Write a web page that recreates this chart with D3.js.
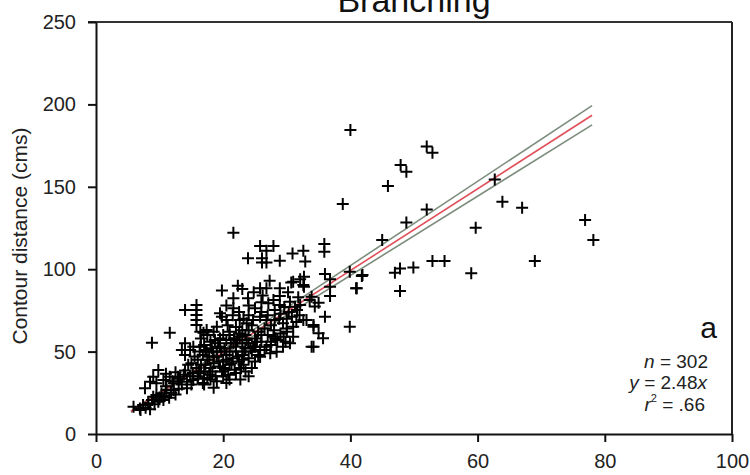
<!DOCTYPE html>
<html>
<head>
<meta charset="utf-8">
<script src="https://cdn.jsdelivr.net/npm/d3@7"></script>
<style>
  body { margin: 0; background: white; }
  text { font-family: "Liberation Sans", Arial, sans-serif; }
</style>
</head>
<body>
<div id="chart"></div>
<script>
// straight-line distance (x) and contour distance (y) for each branching point
const straightDist = [
    5.9, 6.9, 7.4, 8.2, 8.8, 9.0, 9.5, 10.3, 10.6, 11.1, 12.2,
    7.0, 7.8, 8.5, 9.2, 9.8, 10.0, 10.8, 11.5, 11.8, 12.5, 13.0, 13.5,
    9.8, 9.0, 8.5, 7.7, 9.5, 10.6, 11.6, 12.2, 12.9, 14.3, 14.3, 15.3, 16.4,
    11.0, 12.0, 13.2, 13.8, 14.8, 15.0, 16.0, 16.8, 17.5, 14.0, 12.5, 11.0,
    8.8, 11.6, 14.0, 15.8, 15.8, 15.8, 15.8, 15.8, 16.9, 19.0, 19.5, 20.5, 14.0, 13.5, 14.8, 14.0,
    15.8, 16.5, 17.0, 17.5, 18.0, 18.5, 19.0, 19.5, 20.0, 20.5, 21.0, 21.5, 22.0, 22.5, 23.0, 23.5, 24.0,
    16.0, 16.8, 17.2, 17.8, 18.2, 18.8, 19.2, 19.8, 20.2, 20.8, 21.2, 21.8, 22.2, 22.8, 23.2, 24.0, 24.5,
    15.0, 15.5, 16.2, 17.0, 18.0, 18.5, 19.0, 19.5, 20.0, 20.5, 21.0, 22.0, 23.0, 24.5, 25.0, 25.5, 25.0, 26.0,
    17.0, 18.0, 19.0, 20.0, 21.0, 22.0, 16.5, 17.5, 18.5, 20.0, 21.0, 22.5, 23.5, 24.0,
    16.4, 17.4, 18.4, 19.5, 20.5, 21.6, 22.6, 23.7, 24.7, 25.8, 27.4, 28.4, 29.4,
    16.4, 17.4, 19.8, 22.6, 23.7, 24.7, 25.8, 26.8, 28.1, 29.4, 30.8, 31.6, 32.1, 33.6, 34.4, 33.1, 34.2, 31.0, 30.5, 34.2, 27.9, 26.8, 25.8,
    21.6, 23.9, 21.6, 25.0, 27.1, 27.9, 28.9, 28.1, 19.8, 25.8, 26.8, 28.9, 28.9, 31.0, 32.1, 32.6,
    22.0, 23.0, 24.5, 25.5, 26.5, 27.0, 28.0, 29.0, 30.0, 25.0, 26.0, 27.5, 28.5, 29.5, 30.0, 21.0,
    22.5, 24.0, 26.0, 27.0, 29.0, 30.0, 31.5, 32.0, 24.0, 26.0, 20.5,
    14.5, 15.2, 16.0, 17.2, 18.3, 19.3, 20.3, 21.3, 22.3, 23.3, 24.3, 19.7, 18.7, 21.7, 23.0, 25.3, 26.5, 27.5,
    28.2, 29.8, 22.7, 18.5, 20.5, 23.5, 24.0, 17.8, 16.3, 15.3, 20.7, 21.5, 23.2, 27.5, 28.8, 30.3, 29.6, 31.8,
    30.2, 26.2, 24.8, 23.0, 22.3, 27.3,
    21.6, 25.8, 27.9, 26.8, 26.8, 26.1, 26.1, 28.9, 23.9, 30.9, 32.6, 32.9, 35.9, 35.9,
    30.7, 32.7, 32.7, 36.0, 36.8, 36.8, 36.8, 39.9, 41.8, 41.0, 31.3, 30.5, 33.9, 35.0, 36.0, 32.6,
    34.2, 35.0, 35.7, 39.9, 31.0, 33.9,
    38.8, 40.0, 52.0, 52.9, 47.9, 48.8, 45.9, 62.7, 63.9, 67.0, 52.0, 48.8, 59.7, 45.0, 76.9, 78.2,
    69.0, 52.9, 54.8, 59.0, 47.8, 47.0, 49.9, 47.8, 41.9, 40.9
];

const contourDist = [
    16.6, 15.5, 17.6, 18.6, 20.6, 22.6, 23.7, 24.7, 20.6, 26.7, 26.7,
    14.5, 16.0, 15.0, 18.0, 19.5, 22.0, 23.0, 22.0, 25.0, 24.0, 27.5, 30.0,
    38.8, 34.8, 31.7, 27.7, 30.8, 32.8, 34.8, 30.8, 34.8, 31.7, 27.7, 32.8, 36.8,
    29.0, 32.0, 33.5, 36.0, 35.0, 30.0, 33.5, 31.0, 34.0, 38.5, 37.5, 36.5,
    55.4, 61.5, 75.2, 78.3, 75.2, 72.2, 69.2, 66.1, 61.5, 65.1, 73.2, 69.2, 55.0, 51.0, 51.0, 47.9,
    40, 42, 38, 45, 40, 43, 47, 41, 44, 48, 42, 46, 50, 44, 48, 52, 46,
    45, 48, 50, 36, 52, 35, 55, 38, 52, 36, 55, 39, 57, 40, 42, 55, 40,
    43, 47, 38, 54, 56, 47, 50, 58, 40, 45, 50, 53, 45, 50, 44, 48, 53, 56,
    30, 33, 32, 35, 33, 37, 58, 60, 62, 60, 62, 61, 60, 63,
    53.0, 51.0, 49.9, 53.0, 57.0, 55.0, 59.0, 57.0, 53.0, 46.9, 49.0, 49.9, 53.0,
    62.1, 63.1, 71.2, 69.2, 67.2, 69.2, 71.2, 69.2, 69.2, 67.2, 71.2, 75.2, 78.3, 81.3, 77.3, 69.2, 65.1, 65.1, 55.0, 53.0, 59.0, 53.0, 51.0,
    82.3, 82.3, 76.3, 76.3, 79.3, 81.3, 78.3, 75.2, 87.0, 88.4, 88.4, 88.4, 83.7, 92.4, 93.9, 90.4,
    65, 63, 66, 62, 64, 60, 63, 61, 64, 58, 60, 56, 57, 59, 62, 60,
    74, 72, 74, 72, 73, 70, 68, 72, 78, 80, 78,
    42, 37, 35, 42, 38, 44, 39, 43, 47, 50, 52, 50, 57, 58, 55, 56, 51, 54,
    58, 56, 33, 28, 31, 38, 35, 47, 50, 53, 66, 72, 70, 66, 70, 74, 77, 83,
    86, 84, 86, 88, 90, 93,
    122.1, 114.1, 114.1, 111.2, 104.0, 106.6, 104.0, 105.2, 106.6, 109.6, 111.2, 104.6, 115.3, 110.6,
    92.0, 95.4, 89.4, 97.1, 93.9, 89.4, 83.7, 98.5, 95.9, 88.4, 77.2, 80.3, 83.3, 79.7, 71.2, 69.2,
    66.1, 61.1, 58.1, 65.1, 59.0, 53.0,
    139.6, 184.5, 174.4, 170.7, 163.2, 159.2, 150.5, 154.5, 141.0, 137.3, 136.3, 128.4, 125.2, 117.7, 129.9, 117.7,
    105.0, 105.0, 105.0, 97.5, 100.5, 97.9, 101.0, 86.8, 96.5, 88.4
];

const xTicks = [0, 20, 40, 60, 80, 100];
const yTicks = [0, 50, 100, 150, 200, 250];
const slope = 2.48, bandDelta = 0.075; // fitted slope and 95% band half-width on the slope
const fitRange = [5.5, 78];

const data = straightDist.map((d, i) => ({ x: d, y: contourDist[i] }));

const height = 475,
      width = 750,
      margin = ({ top: 22, right: 18, bottom: 41, left: 96 });

let svg = d3.select("#chart")
    .append("svg")
    .attr("width", width)
    .attr("height", height);

let x = d3.scaleLinear()
    .domain([0, 100])
    .range([margin.left, width - margin.right]);

let y = d3.scaleLinear()
    .domain([0, 250])
    .range([height - margin.bottom, margin.top]);

// frame on the top and right
svg.append("line")
    .attr("x1", x(0) - 8).attr("x2", x(100))
    .attr("y1", y(250)).attr("y2", y(250))
    .attr("stroke", "#333").attr("stroke-width", 2);
svg.append("line")
    .attr("x1", x(100)).attr("x2", x(100))
    .attr("y1", y(250)).attr("y2", y(0))
    .attr("stroke", "#222").attr("stroke-width", 2);

let xAxis = svg.append("g")
    .attr("transform", `translate(0,${y(0)})`)
    .call(d3.axisBottom(x).tickValues(xTicks).tickSize(8).tickSizeOuter(0).tickPadding(12));

let yAxis = svg.append("g")
    .attr("transform", `translate(${x(0)},0)`)
    .call(d3.axisLeft(y).tickValues(yTicks).tickSize(8).tickSizeOuter(0).tickPadding(12));

for (let g of [xAxis, yAxis]) {
    g.select(".domain").attr("stroke", "#111").attr("stroke-width", 2);
    g.selectAll(".tick line").attr("stroke", "#111").attr("stroke-width", 2);
    g.selectAll(".tick text")
        .attr("fill", "#222")
        .style("font-size", "20px")
        .style("font-family", "'Liberation Sans', Arial, sans-serif");
}

// regression line with confidence band
let fit = [
    { k: slope + bandDelta, c: "#7d8d7d" },
    { k: slope - bandDelta, c: "#7d8d7d" },
    { k: slope, c: "#e0505a" }
];
svg.selectAll(".fit")
    .data(fit)
    .join("line")
    .attr("class", "fit")
    .attr("x1", x(fitRange[0])).attr("y1", d => y(d.k * fitRange[0]))
    .attr("x2", x(fitRange[1])).attr("y2", d => y(d.k * fitRange[1]))
    .attr("stroke", d => d.c)
    .attr("stroke-width", 1.6);

// plus markers
svg.selectAll(".pt")
    .data(data)
    .join("path")
    .attr("class", "pt")
    .attr("transform", d => `translate(${x(d.x)},${y(d.y)})`)
    .attr("d", "M-6,0H6M0,-6V6")
    .attr("stroke", "#000")
    .attr("stroke-width", 2)
    .attr("fill", "none");

// title, cut at the top edge like the original
svg.append("text")
    .attr("x", (x(0) + x(100)) / 2)
    .attr("y", 12)
    .attr("text-anchor", "middle")
    .attr("fill", "#111")
    .style("font-size", "34px")
    .text("Branching");

svg.append("text")
    .attr("transform", `translate(27,236) rotate(-90)`)
    .attr("text-anchor", "middle")
    .attr("fill", "#222")
    .style("font-size", "21px")
    .text("Contour distance (cms)");

// panel letter and stats
svg.append("text")
    .attr("x", 717).attr("y", 338)
    .attr("text-anchor", "end")
    .style("font-size", "30px")
    .attr("fill", "#111")
    .text("a");

let stats = svg.append("g")
    .attr("text-anchor", "end")
    .attr("fill", "#222")
    .style("font-size", "19px");

let t1 = stats.append("text").attr("x", 708).attr("y", 368);
t1.append("tspan").style("font-style", "italic").text("n");
t1.append("tspan").text(" = 302");

let t2 = stats.append("text").attr("x", 707).attr("y", 389);
t2.append("tspan").style("font-style", "italic").text("y");
t2.append("tspan").text(" = 2.48");
t2.append("tspan").style("font-style", "italic").text("x");

let t3 = stats.append("text").attr("x", 705).attr("y", 411);
t3.append("tspan").style("font-style", "italic").text("r");
t3.append("tspan").attr("dy", -9).style("font-size", "11px").text("2");
t3.append("tspan").attr("dy", 9).text("  = .66");
</script>
</body>
</html>
